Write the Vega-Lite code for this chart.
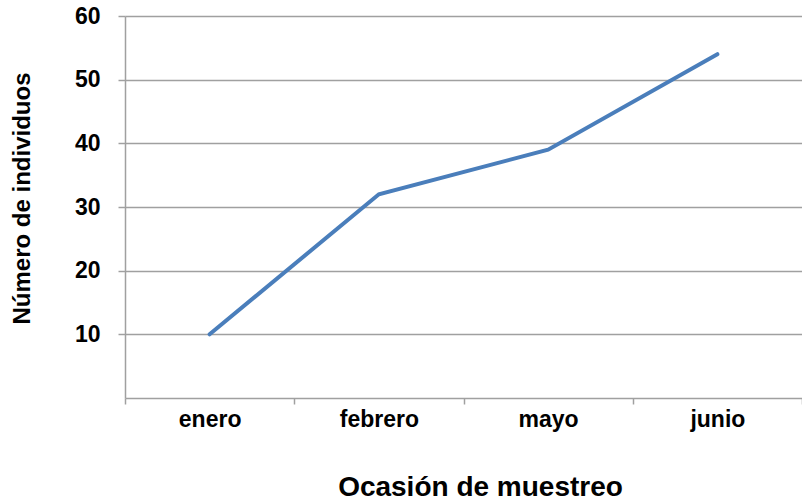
{
  "$schema": "https://vega.github.io/schema/vega-lite/v6.json",
  "autosize": "none",
  "width": 677,
  "height": 382,
  "padding": {"left": 125, "top": 16, "right": 0, "bottom": 105},
  "background": "white",
  "config": {"view": {"stroke": null}, "font": "Liberation Sans"},
  "data": {"values": [
    {"mes": "enero", "n": 10},
    {"mes": "febrero", "n": 32},
    {"mes": "mayo", "n": 39},
    {"mes": "junio", "n": 54}
  ]},
  "mark": {"type": "line", "color": "#4A7EBB", "strokeWidth": 4, "strokeCap": "round"},
  "encoding": {
    "x": {
      "field": "mes", "type": "nominal", "sort": null,
      "scale": {"type": "band", "paddingInner": 0, "paddingOuter": 0},
      "axis": {
        "title": "Ocasión de muestreo",
        "titleFont": "Liberation Sans", "titleFontSize": 28, "titleFontWeight": "bold", "titleColor": "#000",
        "titlePadding": 42, "titleX": 355,
        "labelFont": "Liberation Sans", "labelFontSize": 23, "labelFontWeight": "bold", "labelColor": "#000",
        "labelAngle": 0, "labelPadding": 4,
        "tickBand": "extent", "ticks": true, "tickSize": 6, "tickColor": "#A0A0A0", "tickWidth": 1.5,
        "domainColor": "#A0A0A0", "domainWidth": 1.5, "grid": false
      }
    },
    "y": {
      "field": "n", "type": "quantitative",
      "scale": {"domain": [0, 60], "nice": false},
      "axis": {
        "title": "Número de individuos",
        "titleFont": "Liberation Sans", "titleFontSize": 24, "titleFontWeight": "bold", "titleColor": "#000",
        "titlePadding": 40, "titleY": 182,
        "values": [10, 20, 30, 40, 50, 60],
        "labelFont": "Liberation Sans", "labelFontSize": 23, "labelFontWeight": "bold", "labelColor": "#000",
        "labelPadding": 18,
        "ticks": true, "tickSize": 7, "tickColor": "#A0A0A0", "tickWidth": 1.5,
        "grid": true, "gridColor": "#A0A0A0", "gridWidth": 1.5,
        "domainColor": "#A0A0A0", "domainWidth": 1.5
      }
    }
  }
}
